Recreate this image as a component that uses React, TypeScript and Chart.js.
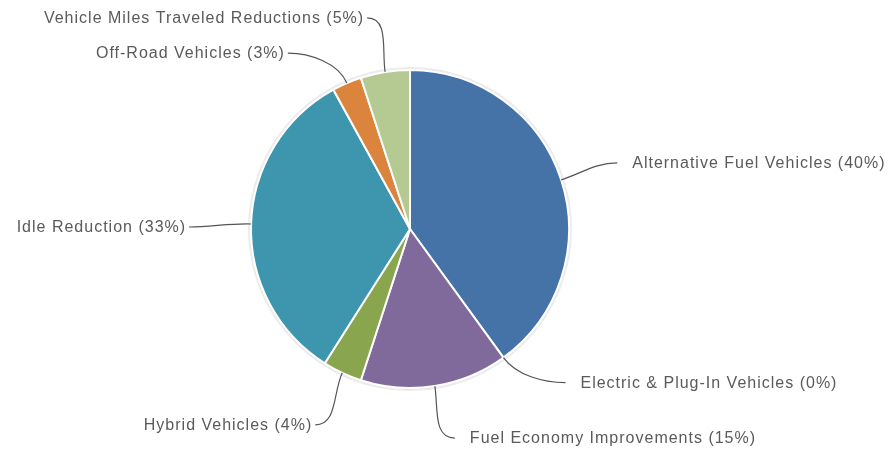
import React, { useEffect, useRef } from "react";
import { Chart, registerables } from "chart.js";

Chart.register(...registerables);

const categories = [
  "Alternative Fuel Vehicles",
  "Electric & Plug-In Vehicles",
  "Fuel Economy Improvements",
  "Hybrid Vehicles",
  "Idle Reduction",
  "Off-Road Vehicles",
  "Vehicle Miles Traveled Reductions",
];
const values = [40, 0, 15, 4, 33, 3, 5];
const colors = ["#4572A7", "#4572A7", "#80699B", "#89A54E", "#3D96AE", "#DB843D", "#B5CA92"];

// leader-line end offsets from the slice's outer midpoint (layout only)
const labelDx = [56, 62, 20, -27, -62, -59, -18];
const labelDy = [-17, 25, 52, 52, 3, -30, -54];

const leaderPlugin = {
  id: "leaders",
  beforeDatasetsDraw(chart: any) {
    const meta = chart.getDatasetMeta(0);
    const arc = meta.data[0];
    if (!arc) return;
    const { x, y, outerRadius } = arc.getProps(["x", "y", "outerRadius"], true);
    const ctx = chart.ctx;
    ctx.save();
    ctx.beginPath();
    ctx.arc(x, y, outerRadius + 1.5, 0, Math.PI * 2);
    ctx.strokeStyle = "rgba(0,0,0,0.08)";
    ctx.lineWidth = 3;
    ctx.stroke();
    ctx.restore();
  },
  afterDatasetsDraw(chart: any) {
    const ctx = chart.ctx;
    const meta = chart.getDatasetMeta(0);
    ctx.save();
    ctx.font = "16px 'Liberation Sans', Arial, sans-serif";
    (ctx as any).letterSpacing = "1px";
    ctx.fillStyle = "#5a5a5a";
    ctx.textBaseline = "middle";
    meta.data.forEach((el: any, i: number) => {
      const { x, y, startAngle, endAngle, outerRadius } = el.getProps(
        ["x", "y", "startAngle", "endAngle", "outerRadius"],
        true
      );
      const mid = (startAngle + endAngle) / 2;
      const ax = x + Math.cos(mid) * outerRadius;
      const ay = y + Math.sin(mid) * outerRadius;
      const ex = ax + labelDx[i];
      const ey = ay + labelDy[i];
      const right = labelDx[i] > 0;
      const hd = right ? -1 : 1;
      const k = Math.min(22, Math.hypot(labelDx[i], labelDy[i]) * 0.45);
      ctx.beginPath();
      ctx.moveTo(ax, ay);
      ctx.bezierCurveTo(
        ax + Math.cos(mid) * k,
        ay + Math.sin(mid) * k,
        ex + hd * k,
        ey,
        ex,
        ey
      );
      ctx.strokeStyle = "#555555";
      ctx.lineWidth = 1.2;
      ctx.stroke();
      const text = `${categories[i]} (${values[i]}%)`;
      ctx.textAlign = right ? "left" : "right";
      ctx.fillText(text, right ? ex + 15 : ex - 3, ey + 1);
    });
    ctx.restore();
  },
};

export default function App() {
  const ref = useRef<HTMLCanvasElement>(null);
  useEffect(() => {
    document.body.style.margin = "0";
    const chart = new Chart(ref.current!, {
      type: "pie",
      data: {
        labels: categories,
        datasets: [
          {
            data: values,
            backgroundColor: colors,
            borderColor: "#ffffff",
            borderWidth: 2,
          },
        ],
      },
      options: {
        animation: false,
        responsive: false,
        events: [],
        layout: { padding: { left: 250, right: 322, top: 69, bottom: 62 } },
        plugins: { legend: { display: false }, tooltip: { enabled: false } },
      },
      plugins: [leaderPlugin],
    });
    return () => chart.destroy();
  }, []);
  return (
    <div style={{ width: 892, height: 451 }}>
      <canvas ref={ref} width={892} height={451} style={{ display: "block" }} />
    </div>
  );
}
